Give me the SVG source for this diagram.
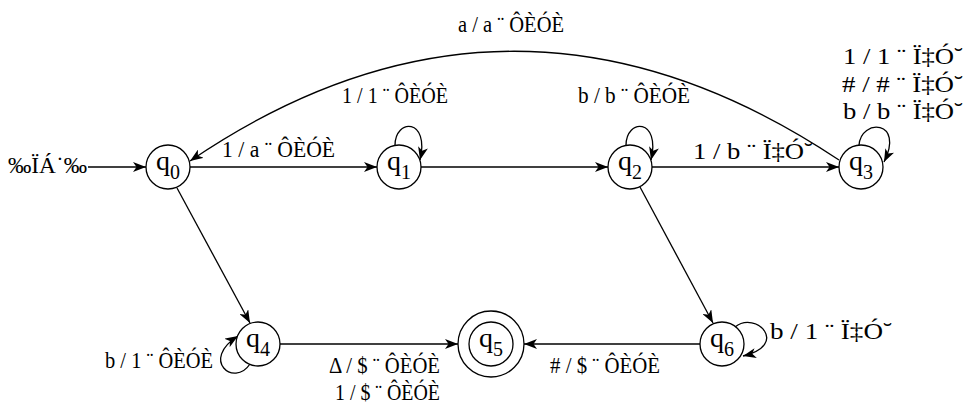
<svg xmlns="http://www.w3.org/2000/svg" width="970" height="408" viewBox="0 0 970 408">
<style>
  .st{fill:#fff;stroke:#000;stroke-width:1.3}
  .nl{font-family:"Liberation Serif",serif;font-size:28px;text-anchor:middle;fill:#000}
  .sub{font-size:20px}
  .lb{font-family:"Liberation Serif",serif;font-size:24px;fill:#000}
  .e{fill:none;stroke:#000;stroke-width:1.3}
</style>
<defs>
  <marker id="ah" markerUnits="userSpaceOnUse" markerWidth="14" markerHeight="10" refX="13" refY="5" orient="auto">
    <path d="M0,0 L13,5 L0,10 L3.5,5 Z" fill="#000"/>
  </marker>
</defs>
<g id="connectors">
  <path class="e" d="M88,167 L146,167" marker-end="url(#ah)"/>
  <path class="e" d="M190,167 L377,167" marker-end="url(#ah)"/>
  <path class="e" d="M421,167 L608,167" marker-end="url(#ah)"/>
  <path class="e" d="M652,167 L839,167" marker-end="url(#ah)"/>
  <path class="e" d="M839,160 Q512,-58 190,161" marker-end="url(#ah)"/>
  <path class="e" d="M177,188 L250,323" marker-end="url(#ah)"/>
  <path class="e" d="M640,187 L713,323" marker-end="url(#ah)"/>
  <path class="e" d="M280,344 L458,344" marker-end="url(#ah)"/>
  <path class="e" d="M700,344 L524,344" marker-end="url(#ah)"/>
  <path class="e" d="M395,145.4 C395,118 430,118 420,160" marker-end="url(#ah)"/>
  <path class="e" d="M626,145.4 C626,118 661,118 651,160" marker-end="url(#ah)"/>
  <path class="e" d="M859,145.2 C861,118 905,120 884,162" marker-end="url(#ah)"/>
  <path class="e" d="M250,364 C234,388 200,360 238,336" marker-end="url(#ah)"/>
  <path class="e" d="M735,327 C756,310 790,345 743,356" marker-end="url(#ah)"/>
  <text class="lb" x="8" y="173" textLength="79" lengthAdjust="spacingAndGlyphs">‰ÏÁ˙‰</text>
  <text class="lb" x="222" y="157" textLength="113" lengthAdjust="spacingAndGlyphs">1 / a ¨ ÔÈÓÈ</text>
  <text class="lb" x="342" y="103" textLength="106" lengthAdjust="spacingAndGlyphs">1 / 1 ¨ ÔÈÓÈ</text>
  <text class="lb" x="578" y="103" textLength="112" lengthAdjust="spacingAndGlyphs">b / b ¨ ÔÈÓÈ</text>
  <text class="lb" x="458" y="32" textLength="106" lengthAdjust="spacingAndGlyphs">a / a ¨ ÔÈÓÈ</text>
  <text class="lb" x="693" y="159" textLength="120" lengthAdjust="spacingAndGlyphs">1 / b ¨ Ï‡Ó˘</text>
  <text class="lb" x="843" y="64" textLength="120" lengthAdjust="spacingAndGlyphs">1 / 1 ¨ Ï‡Ó˘</text>
  <text class="lb" x="842" y="92" textLength="121" lengthAdjust="spacingAndGlyphs"># / # ¨ Ï‡Ó˘</text>
  <text class="lb" x="843" y="119" textLength="120" lengthAdjust="spacingAndGlyphs">b / b ¨ Ï‡Ó˘</text>
  <text class="lb" x="105" y="368" textLength="108" lengthAdjust="spacingAndGlyphs">b / 1 ¨ ÔÈÓÈ</text>
  <text class="lb" x="329" y="373" textLength="111" lengthAdjust="spacingAndGlyphs">Δ / $ ¨ ÔÈÓÈ</text>
  <text class="lb" x="335" y="400" textLength="105" lengthAdjust="spacingAndGlyphs">1 / $ ¨ ÔÈÓÈ</text>
  <text class="lb" x="550" y="373" textLength="110" lengthAdjust="spacingAndGlyphs"># / $ ¨ ÔÈÓÈ</text>
  <text class="lb" x="770" y="339" textLength="122" lengthAdjust="spacingAndGlyphs">b / 1 ¨ Ï‡Ó˘</text>
</g>
<g id="q0"><circle class="st" cx="168" cy="167" r="22"/><text class="nl" x="168" y="170">q<tspan class="sub" dy="9">0</tspan></text></g>
<g id="q1"><circle class="st" cx="399" cy="167" r="22"/><text class="nl" x="399" y="170">q<tspan class="sub" dy="9">1</tspan></text></g>
<g id="q2"><circle class="st" cx="630" cy="167" r="22"/><text class="nl" x="630" y="170">q<tspan class="sub" dy="9">2</tspan></text></g>
<g id="q3"><circle class="st" cx="861" cy="167" r="22"/><text class="nl" x="861" y="170">q<tspan class="sub" dy="9">3</tspan></text></g>
<g id="q4"><circle class="st" cx="258" cy="344" r="22"/><text class="nl" x="258" y="347">q<tspan class="sub" dy="9">4</tspan></text></g>
<g id="q5"><circle class="st" cx="491" cy="344" r="33"/><circle class="st" cx="491" cy="344" r="22"/><text class="nl" x="491" y="347">q<tspan class="sub" dy="9">5</tspan></text></g>
<g id="q6"><circle class="st" cx="722" cy="344" r="22"/><text class="nl" x="722" y="347">q<tspan class="sub" dy="9">6</tspan></text></g>
</svg>
